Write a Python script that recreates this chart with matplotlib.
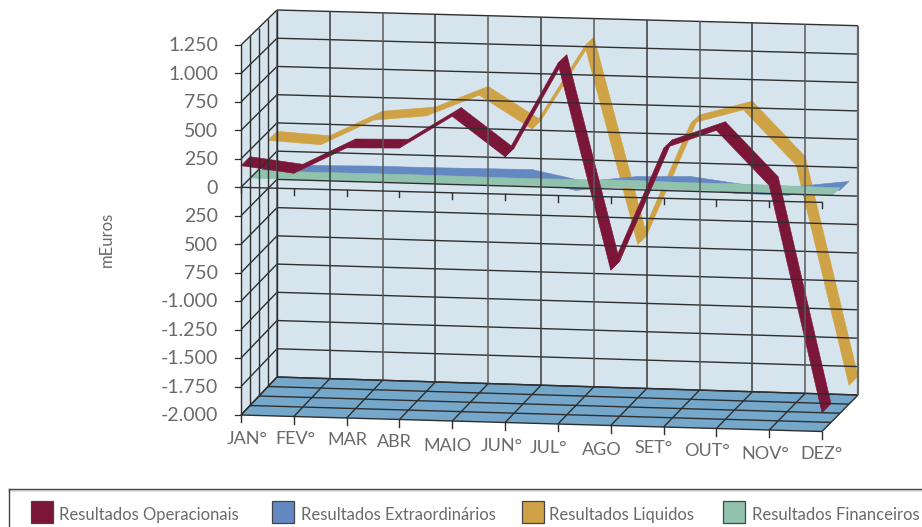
import numpy as np
import matplotlib
matplotlib.use("Agg")
import matplotlib.pyplot as plt
from matplotlib.collections import PolyCollection
from matplotlib.patches import Polygon, Rectangle

months = ["JAN°", "FEV°", "MAR", "ABR", "MAIO", "JUN°", "JUL°", "AGO", "SET°", "OUT°", "NOV°", "DEZ°"]
y_values = [1250, 1000, 750, 500, 250, 0, -250, -500, -750, -1000, -1250, -1500, -1750, -2000]
y_labels = ["1.250", "1.000", "750", "500", "250", "0", "250", "500", "750", "-1.000", "-1.250", "-1.500", "-1.750", "-2.000"]

operacionais = [190, 135, 370, 380, 670, 327, 1157, -640, 436, 606, 136, -1836]
financeiros = [-10, -14, -12, -12, -14, -18, -14, -8, -16, -14, -20, -24]
extraordinarios = [-30, -35, -26, -26, -22, -18, -110, -53, -40, -97, -102, -44]
liquidos = [175, 150, 380, 430, 625, 340, 1085, -650, 425, 560, 85, -1835]

MAROON = "#7b1639"
BLUE = "#6488c1"
GOLD = "#cfa345"
GREEN = "#90c2ae"
WALL = "#d6e4ee"
FLOOR = "#74a7c9"
GRID = "#2e2e2e"
TEXT = "#6a6a6a"

plt.rcParams["font.family"] = ["Lato", "DejaVu Sans"]


def project(i, v, z):
    # category index, value, depth (0 front .. 4 back) -> pixels
    i, v, z = np.asarray(i, float), np.asarray(v, float), np.asarray(z, float)
    frac = (v + 2000) / 3250
    x = 241 + 52.82 * i + 9 * z
    y = 415 - 9.5 * z + i * (1.5 + 0.034 * z - 0.209 * frac) - frac * (370 - 0.75 * z)
    return x, y


def line3d(ax, i, v, z, color=GRID, lw=1.0):
    x, y = project(i, v, z)
    ax.plot(x, y, color=color, lw=lw, solid_capstyle="butt")


def ribbon(ax, values, z0, z1, color):
    quads = []
    for k in range(len(values) - 1):
        xa, ya = project([k, k + 1], values[k:k + 2], z0)
        xb, yb = project([k + 1, k], values[k:k + 2][::-1], z1)
        quads.append(list(zip(list(xa) + list(xb), list(ya) + list(yb))))
    ax.add_collection(PolyCollection(quads, facecolors=color, edgecolors=color, linewidths=0.4))


def main():
    fig = plt.figure(figsize=(9.22, 5.27), dpi=100)
    ax = fig.add_axes([0, 0, 1, 1])
    ax.set_xlim(0, 922)
    ax.set_ylim(527, 0)
    ax.axis("off")

    n = len(months) - 1
    vmin, vmax = y_values[-1], y_values[0]

    # walls and floor
    def poly(pts, color):
        xy = [tuple(float(c) for c in project(*p)) for p in pts]
        ax.add_patch(Polygon(xy, closed=True, facecolor=color, edgecolor="none"))

    poly([(0, vmin, 4), (n, vmin, 4), (n, vmax, 4), (0, vmax, 4)], WALL)
    poly([(0, vmin, 0), (0, vmin, 4), (0, vmax, 4), (0, vmax, 0)], WALL)
    poly([(0, vmin, 0), (n, vmin, 0), (n, vmin, 4), (0, vmin, 4)], FLOOR)

    # gridlines
    for v, label in zip(y_values, y_labels):
        line3d(ax, [0, n], [v, v], [4, 4])
        line3d(ax, [0, 0], [v, v], [0, 4])
        x, y = project(0, v, 0)
        ax.plot([x - 6, x], [y, y], color=GRID, lw=0.9)
        ax.text(x - 23, y + 0.8, label, ha="right", va="center", fontsize=14, color=TEXT)
    for i in range(n + 1):
        line3d(ax, [i, i], [vmin, vmax], [4, 4], color="#3a3a3a" if i % 2 else "#5a5a5a", lw=1.1)
        line3d(ax, [i, i], [vmin, vmin], [0, 4])
    for z in range(5):
        line3d(ax, [0, n], [vmin, vmin], [z, z])
        line3d(ax, [0, 0], [vmin, vmax], [z, z])
    line3d(ax, [n, n], [vmin, vmax], [4, 4], color="#666666", lw=1.6)

    # axis at zero with its ticks, and ticks under the floor
    line3d(ax, [0, n], [0, 0], [0, 0])
    for i in range(n + 1):
        x, y = project(i, 0, 0)
        ax.plot([x, x], [y, y + 6], color=GRID, lw=1.0)
        x, y = project(i, vmin, 0)
        ax.plot([x, x], [y, y + 7], color=GRID, lw=1.0)

    # back to front
    ribbon(ax, liquidos, 3, 4, GOLD)
    ribbon(ax, extraordinarios, 2, 3, BLUE)
    ribbon(ax, financeiros, 1.15, 2, GREEN)
    ribbon(ax, operacionais, 0, 1, MAROON)

    # month labels sit unevenly in the original
    label_x = [247, 295, 347, 394, 447, 502, 548, 602, 653, 707, 765, 821]
    label_y = [439, 439, 440, 442, 446, 446, 448, 450, 448, 451, 454, 454]
    for name, x, y in zip(months, label_x, label_y):
        ax.text(x, y, name, ha="center", va="center", fontsize=13, color=TEXT)

    ax.text(107, 239, "mEuros", rotation=90, ha="center", va="center", fontsize=12, color=TEXT)

    # legend box runs off the canvas
    ax.plot([9, 922], [490.5, 490.5], color="#dddddd", lw=1.2)
    ax.plot([9, 922], [489, 489], color="#444444", lw=1.0)
    ax.plot([9, 9], [489, 527], color="#444444", lw=1.0)
    legend = [
        ("Resultados Operacionais", MAROON, 31, 59),
        ("Resultados Extraordinários", BLUE, 272, 301),
        ("Resultados Liquidos", GOLD, 522, 549),
        ("Resultados Financeiros", GREEN, 723, 752),
    ]
    for name, color, sx, tx in legend:
        ax.add_patch(Rectangle((sx, 501), 22, 22, facecolor=color, edgecolor="#444444", lw=0.9))
        ax.text(tx, 515, name, ha="left", va="center", fontsize=12, color=TEXT)

    fig.savefig("out.png", dpi=100)


if __name__ == "__main__":
    main()
